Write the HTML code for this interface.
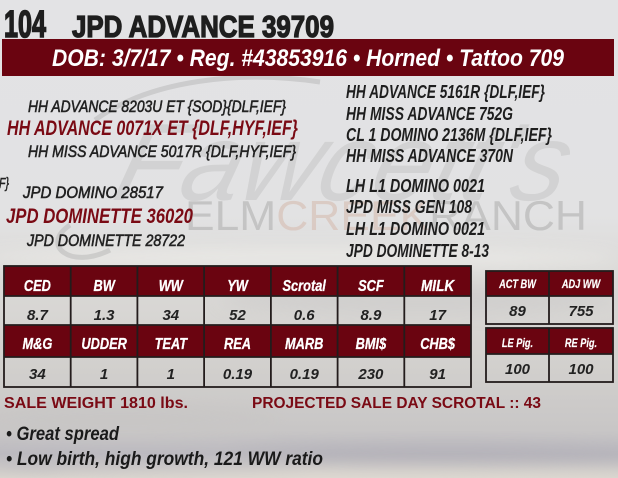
<!DOCTYPE html>
<html><head><meta charset="utf-8"><style>
html,body{margin:0;padding:0;width:618px;height:478px;overflow:hidden;background:#e2e2e4;}
svg{display:block;}
text{font-family:"Liberation Sans",sans-serif;}
</style></head><body>
<svg width="618" height="478" viewBox="0 0 618 478" xmlns="http://www.w3.org/2000/svg">
<defs>
<linearGradient id="bg" x1="0" y1="0" x2="0" y2="1">
<stop offset="0" stop-color="#e3e3e5"/>
<stop offset="0.45" stop-color="#e2e2e3"/>
<stop offset="0.55" stop-color="#dcdbd9"/>
<stop offset="0.75" stop-color="#d3d1ce"/>
<stop offset="0.9" stop-color="#c8c6c6"/>
<stop offset="0.95" stop-color="#bcbac0"/>
<stop offset="1" stop-color="#d9d5ce"/>
</linearGradient>
<filter id="blur" x="-20%" y="-50%" width="140%" height="200%"><feGaussianBlur stdDeviation="8"/></filter>
</defs>
<rect width="618" height="478" fill="url(#bg)"/>
<g filter="url(#blur)" opacity="0.8">
<ellipse cx="300" cy="258" rx="320" ry="10" fill="#ecebe8"/>
<ellipse cx="420" cy="300" rx="200" ry="14" fill="#cfcdcc"/>
<ellipse cx="120" cy="420" rx="160" ry="14" fill="#c8c6c5"/>
<ellipse cx="450" cy="455" rx="220" ry="10" fill="#b3b1b8"/>
<ellipse cx="150" cy="462" rx="160" ry="8" fill="#bdbbc0"/>
<ellipse cx="350" cy="476" rx="300" ry="6" fill="#e2ddd4"/>
</g>

<!-- watermark -->
<path d="M95 120 C150 80, 240 70, 320 82" stroke="#a9a9a9" stroke-width="5" fill="none" opacity="0.4"/>
<path d="M110 250 C70 270, 40 245, 70 225" stroke="#a9a9a9" stroke-width="5" fill="none" opacity="0.4"/>
<g transform="translate(110,200) skewX(-15)">
<text x="0" y="0" font-family="Liberation Serif" font-style="italic" font-size="110" fill="#9c9c9c" opacity="0.22" textLength="450" lengthAdjust="spacingAndGlyphs">Fawcett's</text>
</g>
<text x="185" y="230" font-size="42" fill="#b8b8b8" opacity="0.7" textLength="402" lengthAdjust="spacingAndGlyphs">ELM<tspan fill="#d8c2b8">CREEK</tspan>RANCH</text>

<!-- title -->
<text x="4" y="37" font-size="38" font-weight="bold" fill="#1e1e1e" stroke="#1e1e1e" stroke-width="1.6" textLength="42" lengthAdjust="spacingAndGlyphs">104</text>
<text x="72" y="37" font-size="31" font-weight="bold" fill="#1e1e1e" stroke="#1e1e1e" stroke-width="1.3" textLength="262" lengthAdjust="spacingAndGlyphs">JPD ADVANCE 39709</text>

<!-- banner -->
<rect x="2" y="39" width="612" height="37" fill="#6a0410"/>
<text x="52" y="66" font-size="24" font-weight="bold" font-style="italic" fill="#ffffff" textLength="512" lengthAdjust="spacingAndGlyphs">DOB: 3/7/17 • Reg. #43853916 • Horned • Tattoo 709</text>

<!-- left pedigree -->
<g font-style="italic" fill="#222">
<text x="28" y="112" font-size="17" stroke="#222" stroke-width="0.6" textLength="258" lengthAdjust="spacingAndGlyphs">HH ADVANCE 8203U ET {SOD}{DLF,IEF}</text>
<text x="7" y="135" font-size="21" font-weight="bold" fill="#7a0a14" textLength="291" lengthAdjust="spacingAndGlyphs">HH ADVANCE 0071X ET {DLF,HYF,IEF}</text>
<text x="28" y="157" font-size="17" stroke="#222" stroke-width="0.6" textLength="268" lengthAdjust="spacingAndGlyphs">HH MISS ADVANCE 5017R {DLF,HYF,IEF}</text>
<text x="-1" y="188" font-size="15" stroke="#222" stroke-width="0.5" textLength="10" lengthAdjust="spacingAndGlyphs">F}</text>
<text x="23" y="198" font-size="17" stroke="#222" stroke-width="0.6" textLength="140" lengthAdjust="spacingAndGlyphs">JPD DOMINO 28517</text>
<text x="6" y="223" font-size="21" font-weight="bold" fill="#7a0a14" textLength="187" lengthAdjust="spacingAndGlyphs">JPD DOMINETTE 36020</text>
<text x="27" y="246" font-size="17" stroke="#222" stroke-width="0.6" textLength="158" lengthAdjust="spacingAndGlyphs">JPD DOMINETTE 28722</text>
</g>

<!-- right pedigree -->
<g font-style="italic" font-weight="bold" fill="#1e1e1e" font-size="18">
<text x="346" y="98" textLength="199" lengthAdjust="spacingAndGlyphs">HH ADVANCE 5161R {DLF,IEF}</text>
<text x="346" y="120" textLength="167" lengthAdjust="spacingAndGlyphs">HH MISS ADVANCE 752G</text>
<text x="346" y="141" textLength="206" lengthAdjust="spacingAndGlyphs">CL 1 DOMINO 2136M {DLF,IEF}</text>
<text x="346" y="162" textLength="167" lengthAdjust="spacingAndGlyphs">HH MISS ADVANCE 370N</text>
<text x="346" y="192" textLength="139" lengthAdjust="spacingAndGlyphs">LH L1 DOMINO 0021</text>
<text x="346" y="213" textLength="126" lengthAdjust="spacingAndGlyphs">JPD MISS GEN 108</text>
<text x="346" y="235" textLength="139" lengthAdjust="spacingAndGlyphs">LH L1 DOMINO 0021</text>
<text x="346" y="257" textLength="143" lengthAdjust="spacingAndGlyphs">JPD DOMINETTE 8-13</text>
</g>

<!-- main table -->
<rect x="4" y="266" width="467" height="30" fill="#6a0410"/>
<rect x="4" y="325" width="467" height="32" fill="#6a0410"/>
<g stroke="#231c1c" stroke-width="1.8" fill="none">
<rect x="4" y="266" width="467" height="121"/>
<line x1="4" y1="296" x2="471" y2="296"/>
<line x1="4" y1="325" x2="471" y2="325"/>
<line x1="4" y1="357" x2="471" y2="357"/>
<line x1="70.7" y1="266" x2="70.7" y2="387"/>
<line x1="137.4" y1="266" x2="137.4" y2="387"/>
<line x1="204.1" y1="266" x2="204.1" y2="387"/>
<line x1="270.9" y1="266" x2="270.9" y2="387"/>
<line x1="337.6" y1="266" x2="337.6" y2="387"/>
<line x1="404.3" y1="266" x2="404.3" y2="387"/>
</g>
<g font-style="italic" font-weight="bold" font-size="16" text-anchor="middle" fill="#ffffff" stroke="#ffffff" stroke-width="0.3">
<g transform="translate(37.4,291) scale(0.8,1)"><text x="0" y="0">CED</text></g>
<g transform="translate(104.1,291) scale(0.8,1)"><text x="0" y="0">BW</text></g>
<g transform="translate(170.8,291) scale(0.8,1)"><text x="0" y="0">WW</text></g>
<g transform="translate(237.5,291) scale(0.8,1)"><text x="0" y="0">YW</text></g>
<g transform="translate(304.2,291) scale(0.8,1)"><text x="0" y="0">Scrotal</text></g>
<g transform="translate(370.9,291) scale(0.8,1)"><text x="0" y="0">SCF</text></g>
<g transform="translate(437.6,291) scale(0.85,1)"><text x="0" y="0">MILK</text></g>
<g transform="translate(37.4,349) scale(0.8,1)"><text x="0" y="0">M&amp;G</text></g>
<g transform="translate(104.1,349) scale(0.8,1)"><text x="0" y="0">UDDER</text></g>
<g transform="translate(170.8,349) scale(0.8,1)"><text x="0" y="0">TEAT</text></g>
<g transform="translate(237.5,349) scale(0.8,1)"><text x="0" y="0">REA</text></g>
<g transform="translate(304.2,349) scale(0.8,1)"><text x="0" y="0">MARB</text></g>
<g transform="translate(370.9,349) scale(0.8,1)"><text x="0" y="0">BMI$</text></g>
<g transform="translate(437.6,349) scale(0.8,1)"><text x="0" y="0">CHB$</text></g>
</g>
<g font-style="italic" font-weight="bold" font-size="15" text-anchor="middle" fill="#222">
<text x="37.4" y="320">8.7</text>
<text x="104.1" y="320">1.3</text>
<text x="170.8" y="320">34</text>
<text x="237.5" y="320">52</text>
<text x="304.2" y="320">0.6</text>
<text x="370.9" y="320">8.9</text>
<text x="437.6" y="320">17</text>
<text x="37.4" y="379">34</text>
<text x="104.1" y="379">1</text>
<text x="170.8" y="379">1</text>
<text x="237.5" y="379">0.19</text>
<text x="304.2" y="379">0.19</text>
<text x="370.9" y="379">230</text>
<text x="437.6" y="379">91</text>
</g>

<!-- right tables -->
<rect x="486" y="271" width="127" height="25" fill="#6a0410"/>
<rect x="486" y="328" width="127" height="26" fill="#6a0410"/>
<g stroke="#231c1c" stroke-width="1.8" fill="none">
<rect x="486" y="271" width="127" height="53"/>
<line x1="486" y1="296" x2="613" y2="296"/>
<line x1="549" y1="271" x2="549" y2="324"/>
<rect x="486" y="328" width="127" height="54"/>
<line x1="486" y1="354" x2="613" y2="354"/>
<line x1="549" y1="328" x2="549" y2="382"/>
</g>
<g font-style="italic" font-weight="bold" font-size="11.5" text-anchor="middle" fill="#ffffff" stroke="#ffffff" stroke-width="0.2">
<g transform="translate(517.5,288) scale(0.8,1)"><text x="0" y="0">ACT BW</text></g>
<g transform="translate(581,288) scale(0.8,1)"><text x="0" y="0">ADJ WW</text></g>
<g transform="translate(517.5,347) scale(0.8,1)"><text x="0" y="0">LE Pig.</text></g>
<g transform="translate(581,347) scale(0.8,1)"><text x="0" y="0">RE Pig.</text></g>
</g>
<g font-style="italic" font-weight="bold" font-size="15" text-anchor="middle" fill="#222">
<text x="517.5" y="316">89</text>
<text x="581" y="316">755</text>
<text x="517.5" y="374">100</text>
<text x="581" y="374">100</text>
</g>

<!-- bottom -->
<g font-weight="bold" font-size="16" fill="#7a0a14">
<text x="4" y="408" textLength="184" lengthAdjust="spacingAndGlyphs">SALE WEIGHT 1810 lbs.</text>
<text x="252" y="408" textLength="289" lengthAdjust="spacingAndGlyphs">PROJECTED SALE DAY SCROTAL :: 43</text>
</g>
<g font-weight="bold" font-style="italic" font-size="19" fill="#1a1a1a">
<text x="6" y="440" textLength="113" lengthAdjust="spacingAndGlyphs">• Great spread</text>
<text x="6" y="465" textLength="317" lengthAdjust="spacingAndGlyphs">• Low birth, high growth, 121 WW ratio</text>
</g>
</svg>
</body></html>
